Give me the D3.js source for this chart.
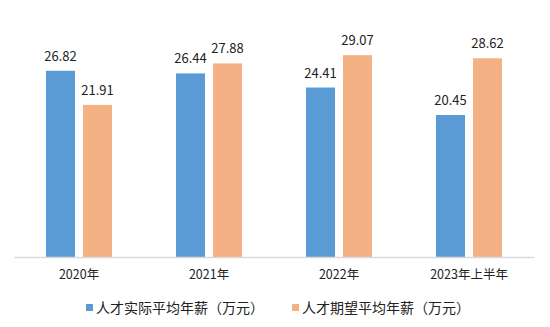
<!DOCTYPE html>
<html><head><meta charset="utf-8">
<script src="https://cdn.jsdelivr.net/npm/d3@7"></script>
<style>
html,body{margin:0;padding:0;background:#fff;}
text{font-family:"Noto Sans CJK SC","Noto Sans",sans-serif;fill:#222;}
</style></head>
<body>
<svg id="chart" width="550" height="327"></svg>
<script>
const categories = ["2020年","2021年","2022年","2023年上半年"];
const actual = [26.82, 26.44, 24.41, 20.45];
const expected = [21.91, 27.88, 29.07, 28.62];
const seriesNames = ["人才实际平均年薪（万元）","人才期望平均年薪（万元）"];
const colors = ["#5b9bd5","#f4b183"];

const svg = d3.select("#chart");
const x0 = d3.scaleBand().domain(categories).range([14,534]).paddingInner(0).paddingOuter(0);
const y = d3.scaleLinear().domain([0,35]).range([257,14]);
const series = [actual, expected];
const barW = 29, gap = 8;

categories.forEach((c,i)=>{
  const cx = x0(c) + x0.bandwidth()/2;
  series.forEach((s,j)=>{
    const bx = cx + (j===0 ? -gap/2 - barW : gap/2);
    svg.append("rect").attr("x",bx).attr("y",y(s[i])).attr("width",barW)
      .attr("height",y(0)-y(s[i])).attr("fill",colors[j]);
    svg.append("text").attr("x",bx+barW/2).attr("y",y(s[i])-10)
      .attr("text-anchor","middle").attr("font-size","13px").text(s[i].toFixed(2));
  });
});

const xAxis = d3.axisBottom(x0).tickSize(0).tickPadding(13);
const g = svg.append("g").attr("transform","translate(0,257)").call(xAxis);
g.select(".domain").attr("stroke","#d9d9d9").attr("stroke-width",1.5);
g.selectAll("text").attr("font-size","12.5px").attr("fill","#222")
  .style("font-family",'"Noto Sans CJK SC","Noto Sans",sans-serif');

const legX = [86, 292];
seriesNames.forEach((n,j)=>{
  svg.append("rect").attr("x",legX[j]).attr("y",304).attr("width",7).attr("height",7).attr("fill",colors[j]);
  svg.append("text").attr("x",legX[j]+10).attr("y",308).attr("dy","0.35em")
    .attr("font-size","14px").text(n);
});
</script>
</body></html>
